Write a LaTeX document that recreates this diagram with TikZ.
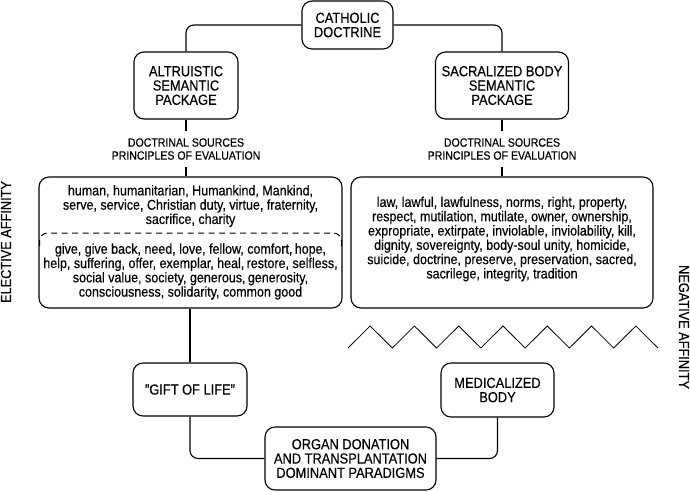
\documentclass[tikz,border=0pt]{standalone}
\usepackage{fontspec}
\setmainfont{Liberation Sans}[FakeStretch=0.88,FakeBold=0.4]
\newcommand\fsz[2]{\fontsize{#1}{#2}\selectfont}
\begin{document}
\begin{tikzpicture}[x=1pt,y=-1pt,
  box/.style={draw, line width=1.1pt, rounded corners=10pt, align=center, inner sep=0pt, font=\fsz{14.6}{14.3}},
  conn/.style={line width=1.1pt, rounded corners=8pt},
  small/.style={align=center, inner sep=0pt, font=\fsz{12}{13}},
  words/.style={align=center, inner sep=0pt, font=\fsz{14.2}{14.3}},
  side/.style={inner sep=0pt, font=\fsz{14.5}{14}}]
\useasboundingbox (0,0) rectangle (690,491);

\node[box, minimum width=91pt, minimum height=48pt] (cath) at (347.5,25) {CATHOLIC\\DOCTRINE};
\node[box, minimum width=104pt, minimum height=67pt] (altr) at (186,85.5) {ALTRUISTIC\\SEMANTIC\\PACKAGE};
\node[box, minimum width=133pt, minimum height=67pt] (sacr) at (502,85.5) {SACRALIZED BODY\\SEMANTIC\\PACKAGE};

\node[small, minimum height=36pt] (docL) at (186,149) {DOCTRINAL SOURCES\\PRINCIPLES OF EVALUATION};
\node[small, minimum height=36pt] (docR) at (502,149) {DOCTRINAL SOURCES\\PRINCIPLES OF EVALUATION};

\node[box, minimum width=303pt, minimum height=131pt] (wordL) at (190.5,242.5) {};
\node[words] (wL1) at (190.5,206) {human, humanitarian, Humankind, Mankind,\\serve, service, Christian duty, virtue, fraternity,\\sacrifice, charity};
\node[words] (wL2) at (190.5,271.5) {give, give back, need, love, fellow, comfort,\,hope,\\help, suffering, offer, exemplar, heal,\,restore, selfless,\\social value, society, generous,\,generosity,\\consciousness, solidarity, common good};
\draw[line width=1pt, dash pattern=on 6pt off 4.5pt, rounded corners=8pt] (39.5,246) |- (190,233) -| (341.5,246);

\node[box, minimum width=302pt, minimum height=131pt] (wordR) at (502,242.5) {};
\node[words] (wR) at (502,239) {law, lawful, lawfulness, norms, right, property,\\respect, mutilation, mutilate, owner, ownership,\\expropriate, extirpate, inviolable, inviolability, kill,\\dignity, sovereignty, body-soul unity, homicide,\\suicide, doctrine, preserve, preservation, sacred,\\sacrilege, integrity, tradition};

\draw[line width=0.8pt] (348,348) \foreach \k in {1,...,7}{ -- ++(22.14,-22) -- ++(22.14,22)};

\node[box, minimum width=114pt, minimum height=53pt] (gift) at (190,389.5) {"GIFT OF LIFE"};
\node[box, minimum width=113pt, minimum height=54pt] (med) at (497.5,390) {MEDICALIZED\\BODY};
\node[box, minimum width=171pt, minimum height=63pt] (organ) at (350.5,458.5) {ORGAN DONATION\\AND TRANSPLANTATION\\DOMINANT PARADIGMS};

\draw[conn] (cath.west) -| (altr.north);
\draw[conn] (cath.east) -| (sacr.north);
\draw[conn] (altr.south) -- (docL.north);
\draw[conn] (docL.south) -- (docL.south |- wordL.north);
\draw[conn] (sacr.south) -- (docR.north);
\draw[conn] (docR.south) -- (docR.south |- wordR.north);
\draw[conn] (gift.north |- wordL.south) -- (gift.north);
\draw[conn] (gift.south) |- (organ.west);
\draw[conn] (med.south) |- (organ.east);

\node[side, rotate=90] (elec) at (6,242) {ELECTIVE AFFINITY};
\node[side, rotate=-90] (neg) at (684,327) {NEGATIVE AFFINITY};
\end{tikzpicture}
\end{document}
